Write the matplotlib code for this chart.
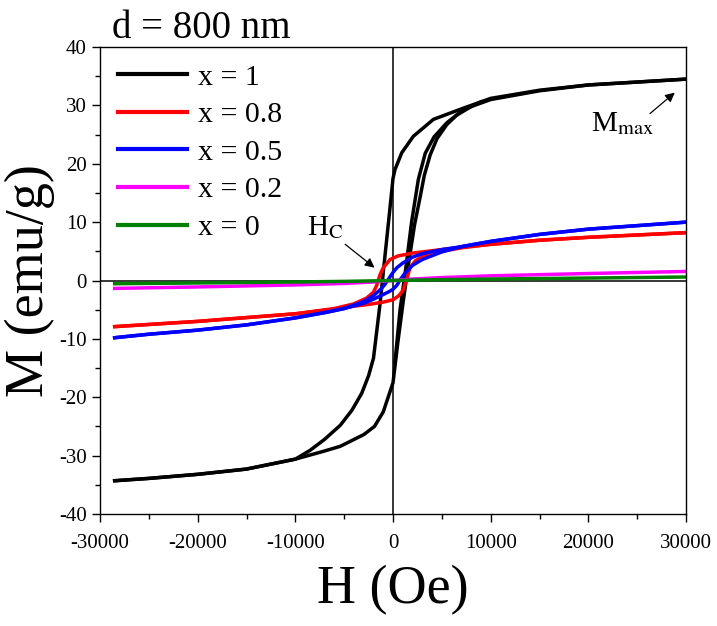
#!/usr/bin/env python3
"""M-H hysteresis loops for d = 800 nm films with different x."""

import matplotlib
matplotlib.use("Agg")
import matplotlib.pyplot as plt
from matplotlib.ticker import MultipleLocator

# x = 1 (black)
black_desc_h = [30000, 25000, 20000, 15000, 10000, 7000, 4130, 2080, 900, 200, 0,
                -400, -800, -1330, -2000, -2500, -3200, -4200, -5400, -7000,
                -8500, -10000, -15000, -20000, -25000, -28500]
black_desc_m = [34.5, 34.0, 33.5, 32.6, 31.2, 29.4, 27.6, 24.7, 21.9, 19.0, 17.5,
                11.0, 4.6, -4.0, -13.3, -16.3, -19.3, -22.2, -24.8, -27.2,
                -29.1, -30.6, -32.3, -33.2, -33.9, -34.3]
black_asc_h = [-28500, -25000, -20000, -15000, -10000, -7000, -5400, -3000, -1900,
               -1000, 0, 500, 1050, 1600, 2200, 2800, 3200, 3800, 4500, 5500,
               6500, 8000, 10000, 15000, 20000, 25000, 30000]
black_asc_m = [-34.3, -33.9, -33.2, -32.3, -30.6, -29.2, -28.4, -26.4, -25.0,
               -22.5, -17.5, -10.5, -3.5, 3.0, 9.5, 14.5, 18.0, 21.5, 24.3, 26.7,
               28.3, 29.8, 31.0, 32.5, 33.5, 34.0, 34.5]
black_asc2_h = [200, 720, 1300, 1900, 2590, 3300, 4200, 5500, 7000, 9000]
black_asc2_m = [-14.0, -5.0, 2.0, 10.0, 17.3, 21.8, 24.6, 27.0, 29.0, 30.6]

# x = 0.8 (red)
red_desc_h = [30000, 20000, 15000, 10000, 7000, 5000, 2000, 500, -300, -1000,
              -1330, -1670, -2000, -2700, -4000, -6000, -10000, -20000, -28500]
red_desc_m = [8.2, 7.4, 6.9, 6.2, 5.7, 5.3, 4.7, 4.2, 3.6, 2.2,
              1.0, -0.8, -2.0, -3.0, -4.0, -4.8, -5.7, -7.0, -7.9]
red_asc_h = [-28500, -20000, -10000, -6000, -4000, -2500, -1000, 0, 600, 1050,
             1400, 1740, 2300, 3100, 5000, 7000, 10000, 15000, 20000, 30000]
red_asc_m = [-7.9, -7.0, -5.7, -4.9, -4.4, -4.1, -3.7, -3.3, -2.6, -1.6,
             0.2, 2.2, 3.4, 4.2, 5.0, 5.6, 6.2, 6.9, 7.4, 8.2]

# x = 0.5 (blue)
blue_desc_h = [30000, 25000, 20000, 15000, 10000, 7000, 5000, 3000, 2000, 1000,
               400, 0, -400, -800, -1200, -2000, -3000, -5000, -7000, -10000,
               -15000, -20000, -25000, -28500]
blue_desc_m = [10.0, 9.4, 8.8, 7.9, 6.7, 5.8, 5.3, 4.6, 4.0, 3.0,
               2.2, 1.4, 0.4, -0.6, -1.4, -2.6, -3.6, -4.8, -5.5, -6.4,
               -7.6, -8.5, -9.2, -9.8]
blue_asc_h = [-28500, -25000, -20000, -15000, -10000, -7000, -5000, -3000, -2000,
              -1000, -400, 0, 400, 800, 1200, 2000, 3000, 5000, 7000, 10000,
              15000, 20000, 25000, 30000]
blue_asc_m = [-9.8, -9.2, -8.5, -7.6, -6.4, -5.5, -4.8, -3.9, -3.2,
              -2.4, -1.9, -1.5, -0.8, 0.3, 1.2, 2.6, 3.6, 4.9, 5.8, 6.7,
              7.9, 8.8, 9.4, 10.0]

# x = 0.2 (magenta) and x = 0 (green)
flat_h = [-28500, -20000, -10000, -5000, -2000, 0, 2000, 5000, 10000, 20000, 30000]
magenta_m = [-1.35, -1.1, -0.75, -0.5, -0.25, 0.0, 0.25, 0.5, 0.8, 1.2, 1.55]
green_m = [-0.55, -0.42, -0.25, -0.15, -0.06, 0.0, 0.06, 0.15, 0.25, 0.42, 0.6]

plt.rcParams["font.family"] = ["Liberation Serif", "DejaVu Serif"]
plt.rcParams["mathtext.fontset"] = "stix"
plt.rcParams["axes.unicode_minus"] = False

fig = plt.figure(figsize=(7.17, 6.26), dpi=100)
ax = fig.add_axes([0.1395, 0.1789, 0.8173, 0.746])

lw = 2.5
ax.axhline(0, color="black", lw=1.1, zorder=1)
ax.axvline(0, color="black", lw=1.1, zorder=1)

ax.plot(black_desc_h, black_desc_m, color="black", lw=lw, label="x = 1")
ax.plot(black_asc_h, black_asc_m, color="black", lw=lw)
ax.plot(black_asc2_h, black_asc2_m, color="black", lw=lw)
ax.plot(red_desc_h, red_desc_m, color="#ff0000", lw=lw, label="x = 0.8")
ax.plot(red_asc_h, red_asc_m, color="#ff0000", lw=lw)
ax.plot(blue_desc_h, blue_desc_m, color="#0000ff", lw=lw, label="x = 0.5")
ax.plot(blue_asc_h, blue_asc_m, color="#0000ff", lw=lw)
ax.plot(flat_h, magenta_m, color="#ff00ff", lw=lw, label="x = 0.2")
ax.plot(flat_h, green_m, color="#008000", lw=lw, label="x = 0")

ax.set_xlim(-30000, 30000)
ax.set_ylim(-40, 40)
ax.xaxis.set_major_locator(MultipleLocator(10000))
ax.xaxis.set_minor_locator(MultipleLocator(5000))
ax.yaxis.set_major_locator(MultipleLocator(10))
ax.yaxis.set_minor_locator(MultipleLocator(5))
ax.tick_params(which="both", direction="out", top=False, right=False,
               labelsize=15, width=1.0)
ax.tick_params(which="major", length=6)
ax.tick_params(which="minor", length=3.5)
ax.tick_params(axis="x", which="major", pad=8.5)
for sp in ax.spines.values():
    sp.set_linewidth(1.0)

ax.set_xlabel("H (Oe)", fontsize=39, labelpad=8)
ax.set_ylabel("M (emu/g)", fontsize=39, labelpad=3)
ax.set_title("d = 800 nm", fontsize=28, loc="left", x=0.02, pad=5)

leg = ax.legend(loc="upper left", bbox_to_anchor=(0.01, 0.99), frameon=False,
                fontsize=21.5, handlelength=2.3, handletextpad=0.4,
                labelspacing=0.36, borderaxespad=0)
for line in leg.get_lines():
    line.set_linewidth(3.0)

ax.annotate("", xy=(-1670, 1.9), xytext=(-5120, 6.5),
            arrowprops=dict(arrowstyle="-|>", color="black", lw=0.9,
                            mutation_scale=14))
ax.text(-6960, 9.1, r"H$_{\mathrm{C}}$", fontsize=21, ha="center", va="center")
ax.annotate("", xy=(29070, 32.5), xytext=(26100, 28.3),
            arrowprops=dict(arrowstyle="-|>", color="black", lw=0.9,
                            mutation_scale=14))
ax.text(23450, 26.9, r"M$_{\mathrm{max}}$", fontsize=21, ha="center", va="center")

fig.savefig("out.png", dpi=100)
